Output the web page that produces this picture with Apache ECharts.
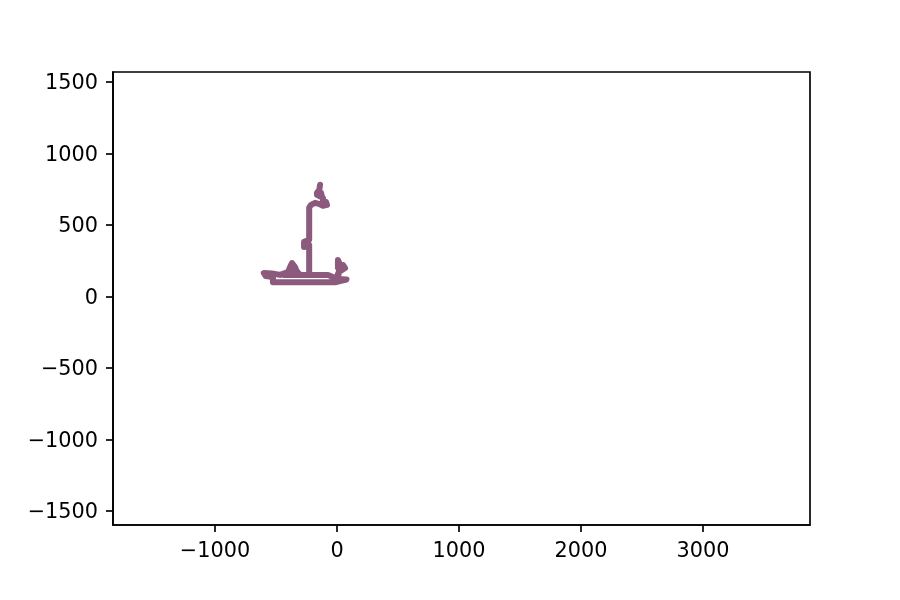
<!DOCTYPE html>
<html>
<head>
<meta charset="utf-8">
<script src="https://cdn.jsdelivr.net/npm/echarts@6/dist/echarts.min.js"></script>
<style>html,body{margin:0;padding:0;background:#fff}#c{width:900px;height:600px}</style>
</head>
<body>
<div id="c"></div>
<script>
const pathX = [-139,-145,-164,-131,-123,-164,-115,-115,-90,-82,-115,-148,-180,-213,-228,-228,-228,-228,-270,-270,-228,-228,-228,-74,-33,-8,8,16,66,49,8,8,33,8,-8,78,50,-16,-525,-525,-585,-600,-533,-467,-402,-385,-369,-344,-328,-393,-360,-311,-440,-228];
const pathY = [780,745,724,724,696,710,689,668,661,640,633,647,654,640,620,560,480,395,381,345,360,324,150,150,135,121,135,170,198,219,198,254,205,156,121,118,112,98,98,135,142,163,160,150,170,205,233,205,170,170,205,158,150,150];
const xTicks = [-1000,0,1000,2000,3000];
const yTicks = [-1500,-1000,-500,0,500,1000,1500];
const xRange = [-1836,3877];
const yRange = [-1599,1569];
const fmt = v => String(v).replace('-', '\u2212');
const axisCommon = {
  type:'value', scale:false,
  axisLine:{show:true,onZero:false,lineStyle:{color:'#000',width:1.67}},
  splitLine:{show:false}, minorTick:{show:false}
};
const chart = echarts.init(document.getElementById('c'),null,{renderer:'canvas'});
chart.setOption({
  animation:false,
  backgroundColor:'#fff',
  grid:{left:113,right:90,top:72,bottom:75,show:true,borderColor:'#000',borderWidth:1.67,backgroundColor:'transparent'},
  xAxis:Object.assign({},axisCommon,{
    min:xRange[0],max:xRange[1],
    axisTick:{show:true,length:7,inside:false,customValues:xTicks,lineStyle:{color:'#000',width:1.67}},
    axisLabel:{show:true,margin:16,customValues:xTicks,formatter:fmt,color:'#000',fontFamily:'DejaVu Sans',fontSize:20.8,hideOverlap:false}
  }),
  yAxis:Object.assign({},axisCommon,{
    min:yRange[0],max:yRange[1],
    axisTick:{show:true,length:7,inside:false,customValues:yTicks,lineStyle:{color:'#000',width:1.67}},
    axisLabel:{show:true,margin:15,customValues:yTicks,formatter:v=>'{a|'+fmt(v)+'}',color:'#000',fontFamily:'DejaVu Sans',fontSize:20.8,hideOverlap:false,
      rich:{a:{padding:[4,0,0,0],color:'#000',fontFamily:'DejaVu Sans',fontSize:20.8}}}
  }),
  series:[{
    type:'line',
    data:pathX.map((x,i)=>[x,pathY[i]]),
    showSymbol:false,symbol:'none',smooth:false,
    lineStyle:{color:'#8b5a7d',width:6,cap:'round',join:'round'}
  }]
});
</script>
</body>
</html>
